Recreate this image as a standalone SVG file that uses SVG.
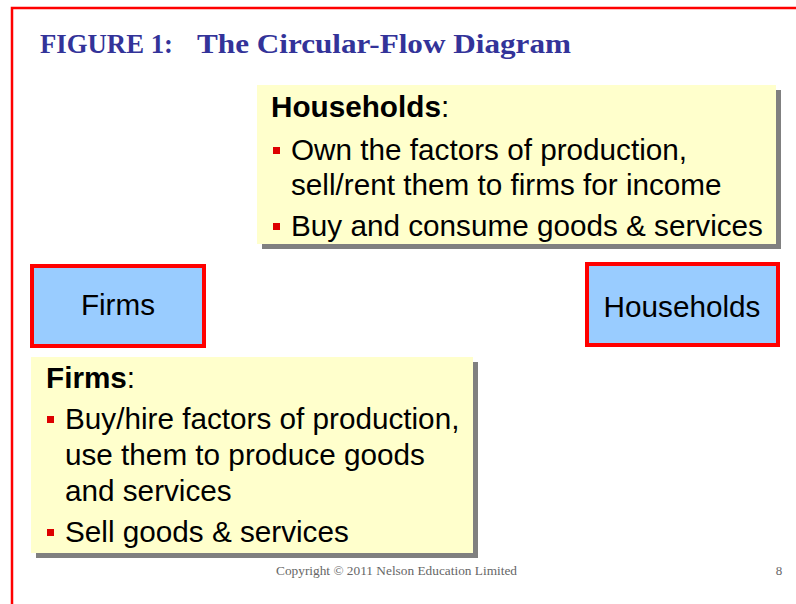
<svg xmlns="http://www.w3.org/2000/svg" width="796" height="604" viewBox="0 0 796 604">
<defs>
<style>
.frame{fill:none;stroke:#FF0000;stroke-width:2.5}
.title{font-family:"Book Antiqua","Palatino Linotype","Liberation Serif",serif;font-weight:bold;font-size:27px;fill:#333399}
.callout{fill:#FFFFCC}
.shadow{fill:#808080}
.node{fill:#99CCFF;stroke:#FF0000;stroke-width:4}
.t{font-family:Arial,"Liberation Sans",sans-serif;font-size:29.7px;fill:#000}
.b{font-weight:bold}
.bullet{fill:#DD0000}
.copy{font-family:"Times New Roman","Liberation Serif",serif;font-size:13px;fill:#666666}
</style>
</defs>
<rect width="796" height="604" fill="#FFFFFF"/>
<path class="frame" d="M12,606 V8 H798"/>
<text class="title" y="53"><tspan x="40" textLength="133" lengthAdjust="spacingAndGlyphs">FIGURE 1:</tspan><tspan x="197" textLength="374" lengthAdjust="spacingAndGlyphs">The Circular-Flow Diagram</tspan></text>

<g id="households-note">
<rect class="shadow" x="262" y="90" width="519" height="159"/>
<rect class="callout" x="257" y="85" width="519" height="159"/>
<text class="t" x="271" y="117"><tspan class="b">Households</tspan>:</text>
<rect class="bullet" x="273" y="147" width="7" height="7"/>
<text class="t" x="291" y="160">Own the factors of production,</text>
<text class="t" x="291" y="195">sell/rent them to firms for income</text>
<rect class="bullet" x="273" y="223" width="7" height="7"/>
<text class="t" x="291" y="236">Buy and consume goods &amp; services</text>
</g>

<g id="firms">
<rect class="node" x="32" y="266" width="172" height="80"/>
<text class="t" x="118" y="315" text-anchor="middle">Firms</text>
</g>

<g id="households">
<rect class="node" x="587" y="264" width="191" height="81"/>
<text class="t" x="682" y="317" text-anchor="middle">Households</text>
</g>

<g id="firms-note">
<rect class="shadow" x="36" y="362" width="442" height="196"/>
<rect class="callout" x="31" y="357" width="442" height="196"/>
<text class="t" x="46" y="388"><tspan class="b">Firms</tspan>:</text>
<rect class="bullet" x="47" y="416" width="7" height="7"/>
<text class="t" x="65" y="429">Buy/hire factors of production,</text>
<text class="t" x="65" y="465">use them to produce goods</text>
<text class="t" x="65" y="501">and services</text>
<rect class="bullet" x="47" y="529" width="7" height="7"/>
<text class="t" x="65" y="542">Sell goods &amp; services</text>
</g>

<g id="connectors"/>

<text class="copy" x="276" y="575" textLength="241" lengthAdjust="spacingAndGlyphs">Copyright © 2011 Nelson Education Limited</text>
<text class="copy" x="779" y="575" text-anchor="middle">8</text>
</svg>
